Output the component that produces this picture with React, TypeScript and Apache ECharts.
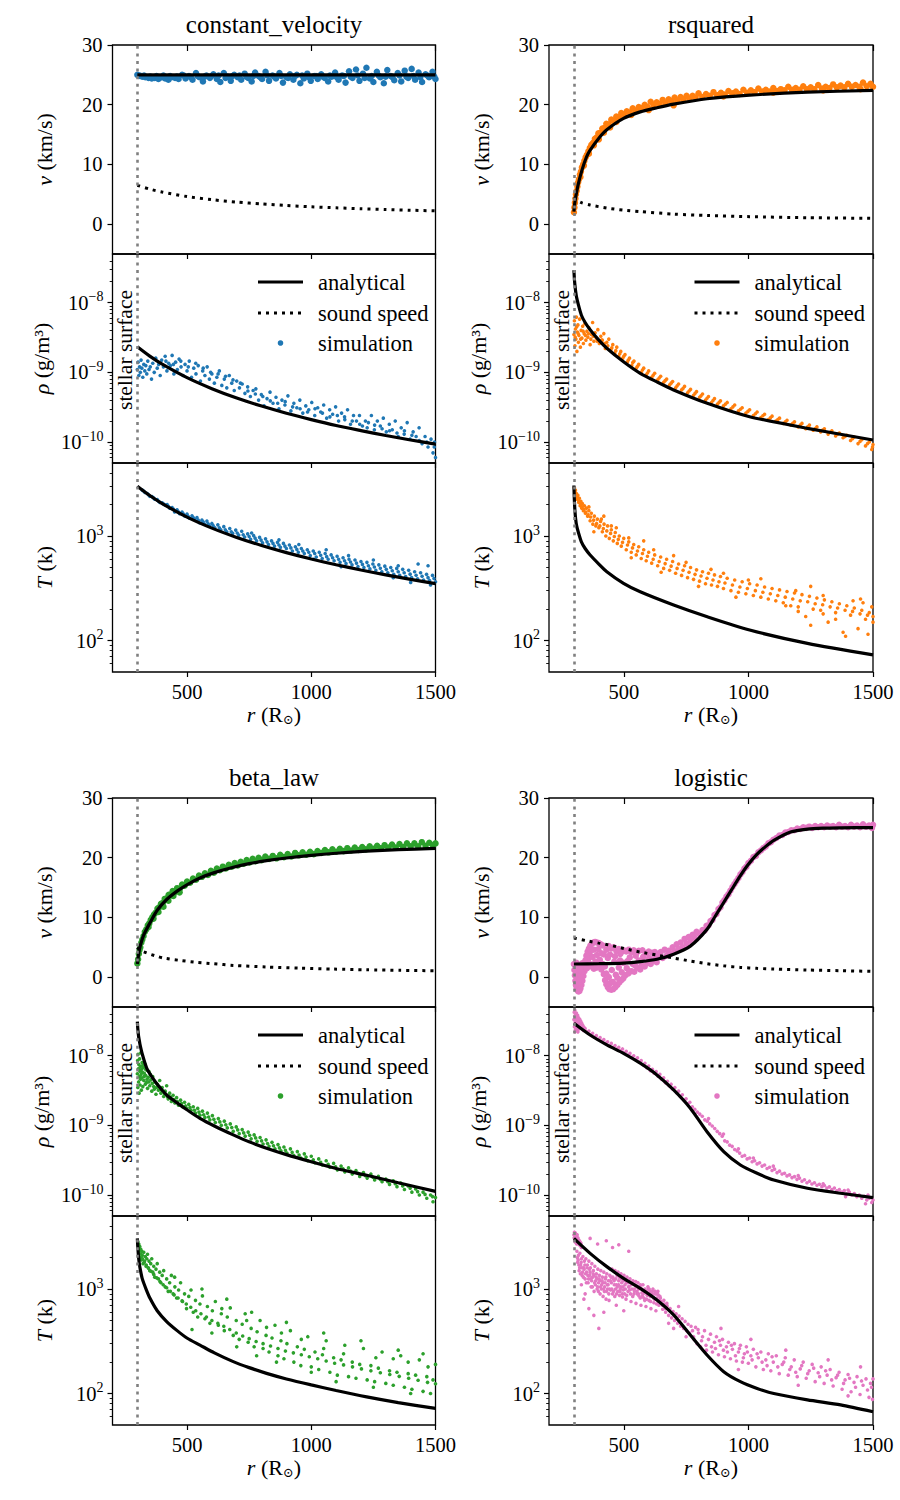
import { useEffect, useRef } from "react";
import * as echarts from "echarts";

// ---------- axes ----------
const R_MIN = 200;
const R_MAX = 1500;
const R_SURFACE = 300;
const R_TICKS = [500, 1000, 1500];
const V_MIN = -5;
const V_MAX = 30;
const V_TICKS = [0, 10, 20, 30];
const RHO_MIN = 5e-11;
const RHO_MAX = 5e-8;
const RHO_TICKS = [1e-10, 1e-9, 1e-8];
const RHO_MINOR = [6e-11, 7e-11, 8e-11, 9e-11, 2e-10, 3e-10, 4e-10, 5e-10, 6e-10, 7e-10, 8e-10, 9e-10, 2e-9, 3e-9, 4e-9, 5e-9, 6e-9, 7e-9, 8e-9, 9e-9, 2e-8, 3e-8, 4e-8];
const T_MIN = 50;
const T_MAX = 5000;
const T_TICKS = [100, 1000];
const T_MINOR = [60, 70, 80, 90, 200, 300, 400, 500, 600, 700, 800, 900, 2000, 3000, 4000];

const PANEL_TITLES = ["constant_velocity", "rsquared", "beta_law", "logistic"];
const PANEL_COLORS = ["#1f77b4", "#ff7f0e", "#2ca02c", "#e377c2"];
const LEGEND_LABELS = ["analytical", "sound speed", "simulation"];

// ---------- constant_velocity ----------
const cvVelocity = [[300, 25], [1500, 25]];
const cvSound = [[300, 6.5], [350, 5.86], [400, 5.37], [500, 4.62], [600, 4.1], [700, 3.69], [800, 3.38], [900, 3.12], [1000, 2.91], [1100, 2.73], [1200, 2.58], [1300, 2.45], [1400, 2.33], [1500, 2.22]];
const cvDensity = [[300, 2.33e-9], [350, 1.71e-9], [400, 1.31e-9], [500, 8.39e-10], [600, 5.83e-10], [700, 4.28e-10], [800, 3.28e-10], [900, 2.59e-10], [1000, 2.1e-10], [1100, 1.73e-10], [1200, 1.46e-10], [1300, 1.24e-10], [1400, 1.07e-10], [1500, 9.32e-11]];
const cvTemperature = [[300, 3000], [350, 2442], [400, 2044], [500, 1518], [600, 1191], [700, 970], [800, 812], [900, 694], [1000, 603], [1100, 531], [1200, 473], [1300, 425], [1400, 385], [1500, 351]];
const cvVelocitySim = [
  [300, 25.0], [307, 24.8], [310, 24.9], [320, 24.7], [327, 24.9], [332, 24.6], [345, 24.5], [352, 24.7], [358, 24.4], [370, 24.5], [377, 24.8], [385, 24.3], [398, 24.6], [405, 24.9], [412, 24.4], [425, 24.2], [432, 24.8], [438, 24.6], [452, 24.5], [459, 24.7], [466, 24.3], [480, 25.0], [487, 24.9], [494, 24.4], [508, 24.8], [515, 24.6], [522, 24.2], [536, 25.3], [543, 24.8], [550, 24.6], [564, 23.9], [571, 24.7], [578, 24.9], [592, 24.5], [599, 24.8], [606, 25.1], [620, 24.3], [627, 24.9], [634, 23.8], [648, 25.3], [655, 24.5], [662, 24.7], [676, 24.0], [683, 24.8], [690, 25.0], [704, 24.6], [711, 24.9], [718, 24.2], [732, 25.2], [739, 24.7], [746, 24.5], [760, 23.9], [767, 24.8], [774, 25.4], [788, 24.8], [795, 24.6], [802, 24.3], [816, 25.5], [823, 24.9], [830, 24.0], [844, 24.9], [851, 24.7], [858, 24.4], [872, 25.3], [879, 24.8], [886, 23.7], [900, 24.6], [907, 24.5], [914, 25.1], [928, 24.2], [935, 24.8], [942, 25.0], [956, 23.6], [963, 24.9], [970, 24.4], [984, 25.2], [991, 24.6], [998, 24.0],
  [1012, 24.8], [1019, 24.8], [1026, 24.3], [1040, 25.1], [1047, 24.7], [1054, 24.5], [1068, 23.9], [1075, 24.9], [1082, 24.7], [1096, 25.4], [1103, 24.6], [1110, 24.2], [1124, 24.9], [1131, 24.8], [1138, 23.7], [1152, 25.6], [1159, 24.7], [1166, 24.5], [1180, 25.9], [1187, 24.9], [1194, 24.0], [1208, 25.2], [1215, 24.5], [1222, 26.2], [1236, 24.4], [1243, 24.8], [1250, 23.8], [1264, 25.5], [1271, 24.9], [1278, 24.6], [1292, 23.6], [1299, 24.7], [1306, 25.8], [1320, 24.8], [1327, 24.6], [1334, 24.1], [1348, 25.3], [1355, 24.9], [1362, 23.9], [1376, 25.7], [1383, 24.7], [1390, 24.5], [1404, 26.0], [1411, 24.8], [1418, 24.2], [1432, 25.4], [1439, 24.6], [1446, 23.8], [1460, 25.1], [1467, 24.9], [1474, 24.6], [1488, 25.5], [1495, 24.7], [1500, 24.3]
];
const cvDensitySim = [
  [300, 1.1e-9], [303, 1.4e-9], [306, 9e-10], [309, 1.2e-9], [312, 1.0e-9], [315, 1.5e-9], [318, 1.15e-9], [322, 8.5e-10], [326, 1.3e-9], [330, 1.05e-9], [334, 1.25e-9], [338, 9.5e-10], [342, 1.45e-9], [347, 1.1e-9], [352, 1.2e-9], [357, 8e-10], [362, 1.35e-9], [368, 1.0e-9], [374, 1.6e-9], [380, 1.15e-9], [386, 1.3e-9], [392, 9e-10], [398, 1.5e-9], [405, 1.2e-9], [412, 1.7e-9], [419, 1.05e-9], [426, 1.35e-9], [433, 1.25e-9], [440, 1.75e-9], [447, 9.5e-10], [454, 1.4e-9], [461, 1.1e-9], [468, 1.55e-9], [476, 1.2e-9], [484, 9e-10], [492, 1.3e-9], [500, 1.05e-9], [509, 1.45e-9], [518, 8.5e-10], [527, 1.15e-9], [536, 9.5e-10], [545, 1.25e-9], [554, 7.5e-10], [563, 1.05e-9], [572, 9e-10], [581, 1.2e-9], [590, 8e-10], [600, 9.5e-10], [610, 7e-10], [620, 8.5e-10], [630, 1.05e-9], [640, 6.5e-10], [650, 8e-10], [660, 6e-10], [670, 9e-10], [680, 7e-10], [690, 5.5e-10], [700, 7.5e-10], [711, 6e-10], [722, 6.8e-10], [733, 5e-10], [744, 6.2e-10], [755, 4.5e-10], [766, 5.5e-10], [777, 5.8e-10], [788, 4e-10], [799, 4.8e-10], [810, 3.3e-10], [822, 4.2e-10], [834, 5.2e-10], [846, 3.6e-10], [858, 4.4e-10], [870, 3e-10], [882, 4e-10], [894, 3.4e-10], [906, 4.6e-10], [918, 2.8e-10], [930, 3.6e-10], [942, 3.1e-10], [954, 4e-10], [966, 2.6e-10], [978, 3.3e-10], [990, 2.9e-10],
  [1002, 3.7e-10], [1014, 2.4e-10], [1026, 3.1e-10], [1038, 2.7e-10], [1050, 3.4e-10], [1062, 2.2e-10], [1074, 2.9e-10], [1086, 2.5e-10], [1098, 3.2e-10], [1110, 2e-10], [1122, 2.6e-10], [1134, 2.3e-10], [1146, 2.9e-10], [1158, 1.8e-10], [1170, 2.4e-10], [1182, 2e-10], [1194, 2.4e-10], [1206, 1.7e-10], [1218, 2e-10], [1230, 1.9e-10], [1242, 2.4e-10], [1254, 1.5e-10], [1266, 2e-10], [1278, 1.7e-10], [1290, 2.2e-10], [1302, 1.4e-10], [1314, 1.8e-10], [1326, 1.5e-10], [1338, 2e-10], [1350, 1.2e-10], [1362, 1.6e-10], [1374, 1.3e-10], [1386, 1.9e-10], [1398, 1.1e-10], [1410, 1.4e-10], [1422, 1.2e-10], [1434, 1.6e-10], [1446, 9.5e-11], [1458, 1.2e-10], [1470, 8.5e-11], [1482, 1.1e-10], [1490, 7e-11], [1496, 1e-10], [1500, 6e-11],
  [415, 1.45e-9], [445, 1.3e-9], [475, 1.45e-9], [505, 1.2e-9], [535, 1.35e-9], [565, 1.15e-9], [595, 1.0e-9], [625, 9.5e-10], [655, 8.8e-10], [685, 7.8e-10], [715, 7e-10], [745, 5.4e-10], [775, 4.9e-10], [805, 4.5e-10], [835, 3.9e-10], [865, 3.6e-10], [895, 3.8e-10], [925, 3.2e-10], [955, 3.0e-10], [985, 2.7e-10], [1015, 3.0e-10], [1045, 2.6e-10], [1075, 2.3e-10], [1105, 2.4e-10], [1135, 2.1e-10], [1165, 2.0e-10], [1195, 1.8e-10], [1225, 1.6e-10], [1255, 1.75e-10], [1285, 1.55e-10], [1315, 1.45e-10], [1345, 1.35e-10], [1375, 1.45e-10], [1405, 1.25e-10], [1435, 1.05e-10], [1465, 1.0e-10], [1495, 8.5e-11]
];
const cvTemperatureSim = [
  [320, 2750], [330, 2620], [340, 2550], [350, 2400], [360, 2380], [370, 2250], [380, 2230], [390, 2100], [400, 2080], [410, 1990], [420, 2000], [430, 1850], [440, 1870], [450, 1700], [460, 1780], [470, 1640], [480, 1700], [490, 1560], [500, 1620], [510, 1480], [520, 1560], [530, 1450], [540, 1500], [550, 1340], [560, 1420], [570, 1300], [580, 1390], [590, 1250], [600, 1320], [612, 1200], [624, 1280], [636, 1150], [648, 1230], [660, 1100], [672, 1180], [684, 1060], [696, 1140], [708, 1020], [720, 1110], [732, 980], [744, 1050], [756, 930], [768, 1010], [780, 900], [792, 970], [804, 860], [816, 940], [828, 830], [840, 900], [852, 800], [864, 870], [876, 780], [888, 850], [900, 760], [912, 820], [924, 720], [936, 790], [948, 700], [960, 760], [972, 680], [984, 740], [996, 650],
  [1008, 720], [1020, 630], [1032, 700], [1044, 610], [1056, 680], [1068, 600], [1080, 660], [1092, 580], [1104, 640], [1116, 560], [1128, 620], [1140, 545], [1152, 600], [1164, 530], [1176, 590], [1188, 510], [1200, 570], [1212, 500], [1224, 560], [1236, 485], [1248, 540], [1260, 470], [1272, 530], [1284, 455], [1296, 515], [1308, 445], [1320, 500], [1332, 430], [1344, 490], [1356, 420], [1368, 480], [1380, 410], [1392, 470], [1404, 400], [1416, 455], [1428, 390], [1440, 445], [1452, 380], [1464, 430], [1476, 375], [1488, 420], [1500, 365],
  [1350, 520], [1430, 540], [1470, 520], [1250, 590], [1150, 650], [1060, 740], [950, 830], [870, 920], [760, 1070], [1120, 510], [1330, 400], [1480, 340], [1010, 600], [1400, 360],
  [325, 2700], [345, 2480], [365, 2320], [385, 2160], [405, 2030], [425, 1930], [445, 1810], [465, 1710], [485, 1630], [505, 1540], [525, 1500], [545, 1420], [565, 1370], [585, 1310], [605, 1260], [630, 1200], [654, 1150], [678, 1100], [702, 1070], [726, 1030], [750, 990], [774, 955], [798, 915], [822, 880], [846, 850], [870, 820], [894, 800], [918, 770], [942, 745], [966, 720], [990, 700], [1014, 680], [1038, 655], [1062, 635], [1086, 620], [1110, 600], [1134, 580], [1158, 565], [1182, 550], [1206, 535], [1230, 520], [1254, 505], [1278, 492], [1302, 480], [1326, 465], [1350, 455], [1374, 445], [1398, 432], [1422, 422], [1446, 412], [1470, 400], [1494, 392]
];

// ---------- rsquared ----------
const rsVelocity = [[300, 2.1], [302, 3.0], [305, 4.0], [310, 5.2], [318, 6.8], [332, 9.0], [350, 11.2], [365, 12.4], [400, 14.4], [432, 15.8], [499, 17.7], [566, 18.8], [633, 19.5], [700, 20.1], [834, 21.0], [1005, 21.6], [1237, 22.1], [1500, 22.4]];
const rsSound = [[300, 4.5], [305, 4.2], [311, 4.0], [330, 3.6], [365, 3.2], [432, 2.7], [499, 2.35], [566, 2.1], [700, 1.68], [835, 1.45], [1005, 1.25], [1237, 1.08], [1500, 0.97]];
const rsDensity = [[300, 2.94e-8], [301, 2.5e-8], [302, 2.15e-8], [304, 1.8e-8], [307, 1.45e-8], [311, 1.18e-8], [318, 9.3e-9], [330, 6.6e-9], [345, 5.2e-9], [365, 4.1e-9], [400, 2.9e-9], [432, 2.22e-9], [499, 1.42e-9], [566, 9.7e-10], [633, 7.3e-10], [700, 5.6e-10], [835, 3.6e-10], [1005, 2.31e-10], [1237, 1.57e-10], [1500, 1.07e-10]];
const rsTemperature = [[300, 3050], [301, 2500], [302, 2150], [304, 1750], [307, 1450], [311, 1250], [318, 1080], [330, 880], [345, 760], [365, 659], [400, 540], [432, 456], [499, 353], [566, 293], [700, 219], [835, 169], [1005, 126], [1237, 94], [1500, 73]];
const rsVelocitySim = [
  [300, 2.0], [302, 2.8], [304, 3.6], [306, 4.3], [308, 5.0], [311, 5.6], [314, 6.3], [317, 7.0], [320, 7.5], [324, 8.3], [328, 8.8], [332, 9.5], [337, 10.0], [342, 10.6], [347, 11.2], [352, 11.6], [358, 12.2], [364, 12.8], [370, 13.3], [377, 13.6], [384, 14.3], [391, 14.5], [398, 15.2], [406, 15.3], [414, 16.0], [422, 16.1], [430, 16.8], [440, 16.7], [450, 17.5], [460, 17.3], [470, 18.0], [480, 17.9], [490, 18.6], [500, 18.3], [512, 18.9], [524, 18.7], [536, 19.4], [548, 19.0], [560, 19.6], [572, 19.4], [584, 20.0], [596, 19.6], [608, 20.5], [620, 19.9], [632, 20.4], [644, 20.1], [656, 20.8], [668, 20.3], [680, 20.9], [692, 20.6], [704, 21.2], [716, 20.7], [728, 21.3], [740, 20.9], [752, 21.5], [764, 21.0], [776, 21.5], [788, 21.2], [800, 21.9], [815, 21.3], [830, 21.8], [845, 21.5], [860, 22.1], [875, 21.6], [890, 22.0], [905, 21.7], [920, 22.3], [935, 21.9], [950, 22.2], [965, 21.8], [980, 22.5], [995, 22.0],
  [1010, 22.4], [1025, 22.1], [1040, 22.7], [1055, 22.2], [1070, 22.5], [1085, 22.2], [1100, 22.8], [1115, 22.3], [1130, 22.6], [1145, 22.4], [1160, 23.0], [1175, 22.5], [1190, 22.8], [1205, 22.5], [1220, 23.1], [1235, 22.6], [1250, 22.9], [1265, 22.6], [1280, 23.3], [1295, 22.7], [1310, 23.0], [1325, 22.8], [1340, 23.4], [1355, 22.9], [1370, 23.2], [1385, 22.9], [1400, 23.5], [1415, 23.0], [1430, 23.3], [1445, 23.0], [1460, 23.7], [1475, 23.1], [1490, 23.5], [1500, 23.0],
  [326, 7.9], [340, 9.8], [360, 11.8], [380, 13.2], [400, 14.2], [420, 15.3], [445, 16.2], [470, 17.1], [530, 18.3], [600, 19.1], [700, 19.9], [900, 21.4], [1100, 22.0], [1300, 22.4], [1450, 22.6]
];
const rsDensitySim = [
  [300, 3.5e-9], [302, 5.5e-9], [304, 2.4e-9], [306, 4.2e-9], [308, 3.0e-9], [310, 6.2e-9], [312, 2.0e-9], [314, 3.8e-9], [316, 4.8e-9], [318, 2.7e-9], [320, 3.4e-9], [323, 5.8e-9], [326, 2.3e-9], [329, 4.0e-9], [332, 3.1e-9], [335, 4.6e-9], [338, 2.6e-9], [341, 3.6e-9], [344, 5.0e-9], [348, 2.9e-9], [352, 3.9e-9], [356, 3.2e-9], [360, 4.4e-9], [365, 2.5e-9], [370, 3.5e-9], [375, 5.2e-9], [380, 2.8e-9], [385, 3.7e-9], [390, 3.1e-9], [396, 4.1e-9], [402, 2.6e-9], [408, 3.3e-9], [414, 2.9e-9], [420, 3.6e-9], [426, 2.2e-9], [432, 2.7e-9], [440, 3.0e-9], [448, 2.1e-9], [456, 2.5e-9], [464, 1.9e-9], [472, 2.3e-9], [480, 1.7e-9], [488, 2.0e-9], [496, 1.6e-9], [505, 1.8e-9], [514, 1.4e-9], [523, 1.6e-9], [532, 1.25e-9], [541, 1.45e-9], [550, 1.15e-9], [560, 1.3e-9], [570, 1.0e-9], [580, 1.15e-9], [590, 9.2e-10], [600, 1.05e-9], [612, 8.5e-10], [624, 9.7e-10], [636, 7.8e-10], [648, 8.8e-10], [660, 7.2e-10], [672, 8e-10], [684, 6.6e-10], [696, 7.4e-10], [708, 6e-10], [720, 6.8e-10], [732, 5.6e-10], [744, 6.3e-10], [756, 5.1e-10], [768, 5.7e-10], [780, 4.7e-10], [792, 5.3e-10], [804, 4.4e-10], [816, 4.9e-10], [828, 4e-10], [840, 4.5e-10], [852, 3.7e-10], [864, 4.2e-10], [876, 3.5e-10], [888, 3.9e-10], [900, 3.3e-10], [915, 3.7e-10], [930, 3e-10], [945, 3.4e-10], [960, 2.8e-10], [975, 3.1e-10], [990, 2.6e-10],
  [1005, 2.9e-10], [1020, 2.4e-10], [1035, 2.7e-10], [1050, 2.25e-10], [1065, 2.5e-10], [1080, 2.1e-10], [1095, 2.35e-10], [1110, 2e-10], [1125, 2.2e-10], [1140, 1.85e-10], [1155, 2.05e-10], [1170, 1.75e-10], [1185, 1.95e-10], [1200, 1.65e-10], [1215, 1.85e-10], [1230, 1.55e-10], [1245, 1.75e-10], [1260, 1.48e-10], [1275, 1.65e-10], [1290, 1.4e-10], [1305, 1.55e-10], [1320, 1.3e-10], [1335, 1.45e-10], [1350, 1.22e-10], [1365, 1.35e-10], [1380, 1.15e-10], [1395, 1.25e-10], [1410, 1.05e-10], [1425, 1.18e-10], [1440, 9.5e-11], [1455, 1.08e-10], [1470, 8.8e-11], [1485, 1e-10], [1495, 7.8e-11], [1500, 9.2e-11],
  [305, 3.2e-9], [311, 4.5e-9], [317, 3.6e-9], [327, 3.0e-9], [337, 3.9e-9], [346, 3.4e-9], [358, 3.6e-9], [368, 3.0e-9], [378, 3.3e-9], [393, 2.8e-9], [411, 2.9e-9], [423, 2.6e-9], [436, 2.4e-9], [452, 2.25e-9], [468, 2.05e-9], [484, 1.85e-9], [500, 1.7e-9], [518, 1.5e-9], [536, 1.38e-9], [555, 1.22e-9], [575, 1.08e-9], [595, 9.8e-10], [618, 9.1e-10], [642, 8.3e-10], [666, 7.6e-10], [690, 7e-10], [714, 6.4e-10], [738, 5.9e-10], [762, 5.4e-10], [786, 5e-10], [810, 4.6e-10], [834, 4.25e-10], [858, 3.95e-10], [882, 3.7e-10], [908, 3.5e-10], [938, 3.2e-10], [968, 2.95e-10], [998, 2.75e-10], [1028, 2.55e-10], [1058, 2.38e-10], [1088, 2.22e-10], [1118, 2.1e-10], [1148, 1.95e-10], [1178, 1.85e-10], [1208, 1.75e-10], [1238, 1.65e-10], [1268, 1.56e-10], [1298, 1.48e-10], [1328, 1.38e-10], [1358, 1.3e-10], [1388, 1.2e-10], [1418, 1.12e-10], [1448, 1.02e-10], [1478, 9.5e-11], [1498, 8.5e-11]
];
const rsTemperatureSim = [
  [302, 2900], [304, 2600], [306, 2750], [308, 2400], [310, 2550], [313, 2250], [316, 2450], [319, 2100], [322, 2300], [325, 1950], [328, 2150], [331, 1850], [334, 2050], [338, 1750], [342, 1950], [346, 1650], [350, 1850], [355, 1550], [360, 1750], [365, 1400], [370, 1650], [376, 1300], [382, 1550], [388, 1250], [394, 1450], [400, 1200], [407, 1380], [414, 1100], [421, 1300], [428, 1000], [435, 1250], [442, 950], [450, 1150], [458, 900], [466, 1080], [474, 850], [482, 1000], [490, 800], [500, 950], [510, 740], [520, 880], [530, 700], [540, 830], [550, 660], [560, 790], [570, 610], [580, 740], [590, 580], [600, 700], [612, 550], [624, 660], [636, 520], [648, 630], [660, 490], [672, 600], [684, 470], [696, 570], [708, 440], [720, 540], [732, 420], [744, 520], [756, 400], [768, 500], [780, 385], [792, 475], [804, 370], [816, 455], [828, 350], [840, 440], [852, 340], [864, 425], [876, 330], [888, 410], [900, 315], [915, 395], [930, 300], [945, 380], [960, 290], [975, 365], [990, 280],
  [1005, 350], [1020, 270], [1035, 340], [1050, 260], [1065, 325], [1080, 250], [1095, 315], [1110, 240], [1125, 305], [1140, 230], [1155, 295], [1170, 215], [1185, 285], [1200, 210], [1215, 275], [1230, 170], [1245, 265], [1260, 200], [1275, 255], [1290, 195], [1305, 245], [1320, 150], [1335, 235], [1350, 185], [1365, 225], [1380, 120], [1395, 215], [1410, 175], [1425, 205], [1440, 130], [1455, 195], [1470, 160], [1485, 185], [1500, 150],
  [1495, 210], [1460, 230], [1420, 240], [1300, 270], [1190, 300], [1000, 380], [900, 440], [750, 560], [620, 740], [520, 960], [450, 1250], [410, 1450], [360, 1900], [1250, 140], [1390, 110], [1480, 115],
  [303, 2700], [309, 2450], [315, 2300], [321, 2150], [327, 2000], [333, 1900], [340, 1800], [348, 1700], [357, 1600], [367, 1520], [379, 1420], [391, 1320], [404, 1250], [418, 1180], [432, 1120], [447, 1060], [462, 990], [478, 930], [495, 870], [515, 820], [535, 770], [555, 720], [575, 680], [595, 640], [618, 600], [642, 570], [666, 545], [690, 515], [714, 490], [738, 470], [762, 450], [786, 430], [810, 415], [834, 395], [858, 380], [882, 365], [906, 355], [936, 340], [966, 325], [996, 315], [1028, 300], [1058, 290], [1088, 280], [1118, 270], [1148, 260], [1178, 250], [1208, 240], [1238, 235], [1268, 225], [1298, 220], [1328, 210], [1358, 205], [1388, 195], [1418, 190], [1448, 180], [1478, 175], [1500, 170],
  [380, 1100], [420, 1550], [470, 1200], [530, 620], [580, 900], [650, 450], [700, 650], [800, 330], [850, 480], [950, 260], [1050, 390], [1150, 215], [1250, 330], [1350, 160], [1450, 250], [1300, 180], [1200, 190]
];

// ---------- beta_law ----------
const blVelocity = [[300, 2.2], [305, 3.8], [311, 5.1], [325, 7.0], [351, 9.1], [380, 11.2], [418, 13.0], [460, 14.4], [501, 15.5], [552, 16.6], [610, 17.5], [686, 18.4], [750, 19.0], [820, 19.5], [900, 19.95], [1000, 20.4], [1100, 20.75], [1223, 21.1], [1350, 21.35], [1500, 21.55]];
const blSound = [[300, 5.0], [305, 4.75], [312, 4.5], [338, 4.04], [370, 3.6], [405, 3.2], [472, 2.8], [539, 2.47], [606, 2.25], [686, 1.97], [820, 1.7], [954, 1.5], [1088, 1.35], [1223, 1.23], [1357, 1.14], [1500, 1.07]];
const blDensity = [[300, 3.08e-8], [302, 2.4e-8], [305, 1.9e-8], [308, 1.65e-8], [311, 1.43e-8], [320, 1.05e-8], [338, 6.6e-9], [360, 4.9e-9], [385, 3.7e-9], [418, 2.73e-9], [460, 2.1e-9], [501, 1.66e-9], [552, 1.26e-9], [610, 9.8e-10], [686, 7.3e-10], [750, 5.8e-10], [820, 4.7e-10], [900, 3.8e-10], [1000, 3.0e-10], [1100, 2.4e-10], [1223, 1.92e-10], [1350, 1.5e-10], [1500, 1.13e-10]];
const blTemperature = [[300, 3055], [302, 2500], [305, 2000], [308, 1750], [311, 1578], [320, 1250], [335, 1000], [351, 815], [380, 620], [418, 488], [460, 400], [501, 338], [552, 291], [610, 245], [686, 202], [750, 177], [820, 156], [900, 138], [1000, 121], [1100, 107], [1223, 93], [1350, 82], [1500, 72]];
const blVelocitySim = [
  [300, 2.3], [303, 3.0], [306, 3.9], [309, 4.6], [312, 5.0], [316, 5.8], [320, 6.3], [325, 6.9], [330, 7.6], [336, 8.0], [342, 8.7], [348, 9.0], [354, 9.6], [360, 10.0], [367, 10.5], [374, 10.8], [381, 11.5], [388, 11.7], [395, 12.3], [402, 12.4], [410, 13.1], [418, 13.2], [426, 13.8], [434, 13.7], [442, 14.4], [450, 14.2], [460, 14.9], [470, 14.7], [480, 15.5], [490, 15.3], [500, 16.0], [512, 15.8], [524, 16.5], [536, 16.3], [548, 17.0], [560, 16.8], [572, 17.4], [584, 17.1], [596, 17.8], [608, 17.5], [620, 18.2], [632, 17.9], [644, 18.5], [656, 18.2], [668, 18.8], [680, 18.5], [692, 19.1], [704, 18.7], [716, 19.3], [728, 19.0], [740, 19.6], [752, 19.2], [764, 19.8], [776, 19.4], [788, 20.0], [800, 19.6], [815, 20.2], [830, 19.8], [845, 20.3], [860, 19.9], [875, 20.5], [890, 20.1], [905, 20.6], [920, 20.2], [935, 20.8], [950, 20.4], [965, 20.9], [980, 20.5], [995, 21.0],
  [1010, 20.6], [1025, 21.1], [1040, 20.8], [1055, 21.3], [1070, 20.9], [1085, 21.4], [1100, 21.0], [1115, 21.5], [1130, 21.1], [1145, 21.6], [1160, 21.2], [1175, 21.7], [1190, 21.3], [1205, 21.8], [1220, 21.4], [1235, 21.9], [1250, 21.5], [1265, 22.0], [1280, 21.6], [1295, 22.1], [1310, 21.7], [1325, 22.2], [1340, 21.7], [1355, 22.3], [1370, 21.8], [1385, 22.4], [1400, 21.9], [1415, 22.4], [1430, 21.9], [1445, 22.6], [1460, 22.0], [1475, 22.5], [1490, 22.1], [1500, 22.4],
  [345, 8.4], [365, 9.8], [385, 10.9], [405, 11.8], [425, 12.8], [445, 13.6], [470, 14.2]
];
const blDensitySim = [
  [300, 5.5e-9], [301, 8.5e-9], [302, 3.5e-9], [303, 1.05e-8], [304, 6.5e-9], [305, 4.2e-9], [306, 7.5e-9], [307, 2.9e-9], [308, 5.0e-9], [309, 9.0e-9], [310, 6.0e-9], [311, 3.8e-9], [312, 7.0e-9], [313, 4.6e-9], [314, 1.1e-8], [315, 5.4e-9], [316, 3.2e-9], [317, 6.4e-9], [318, 4.8e-9], [319, 8.0e-9], [320, 5.8e-9], [322, 3.6e-9], [324, 6.8e-9], [326, 4.4e-9], [328, 5.6e-9], [330, 7.6e-9], [332, 3.9e-9], [334, 5.2e-9], [336, 4.1e-9], [338, 6.2e-9], [341, 3.4e-9], [344, 4.9e-9], [347, 5.9e-9], [350, 3.7e-9], [354, 4.5e-9], [358, 3.1e-9], [362, 5.0e-9], [366, 3.6e-9], [370, 4.2e-9], [375, 2.8e-9], [380, 3.9e-9], [385, 3.2e-9], [390, 4.4e-9], [395, 2.9e-9], [400, 3.5e-9], [406, 2.6e-9], [412, 3.1e-9], [418, 3.7e-9], [424, 2.4e-9], [430, 2.9e-9], [437, 2.2e-9], [444, 2.7e-9], [451, 2.1e-9], [458, 2.5e-9], [466, 1.95e-9], [474, 2.3e-9], [482, 1.85e-9], [490, 2.15e-9], [498, 1.75e-9], [507, 2.0e-9], [516, 1.65e-9], [525, 1.85e-9], [534, 1.5e-9], [543, 1.75e-9], [552, 1.4e-9], [562, 1.6e-9], [572, 1.3e-9], [582, 1.5e-9], [592, 1.2e-9], [602, 1.38e-9], [614, 1.1e-9], [626, 1.25e-9], [638, 1.0e-9], [650, 1.15e-9], [662, 9.2e-10], [674, 1.05e-9], [686, 8.2e-10], [698, 9.5e-10], [710, 7.6e-10], [722, 8.7e-10], [734, 7e-10], [746, 8e-10], [758, 6.4e-10], [770, 7.3e-10], [782, 5.9e-10], [794, 6.7e-10], [806, 5.4e-10], [818, 6.2e-10], [830, 5e-10], [842, 5.7e-10], [854, 4.6e-10], [866, 5.3e-10], [878, 4.3e-10], [890, 4.9e-10], [902, 4e-10], [916, 4.6e-10], [930, 3.7e-10], [944, 4.2e-10], [958, 3.4e-10], [972, 3.9e-10], [986, 3.1e-10],
  [1000, 3.6e-10], [1015, 2.9e-10], [1030, 3.3e-10], [1045, 2.7e-10], [1060, 3.1e-10], [1075, 2.5e-10], [1090, 2.85e-10], [1105, 2.3e-10], [1120, 2.6e-10], [1135, 2.15e-10], [1150, 2.45e-10], [1165, 2e-10], [1180, 2.25e-10], [1195, 1.85e-10], [1210, 2.1e-10], [1225, 1.75e-10], [1240, 2e-10], [1255, 1.65e-10], [1270, 1.85e-10], [1285, 1.55e-10], [1300, 1.7e-10], [1315, 1.42e-10], [1330, 1.6e-10], [1345, 1.32e-10], [1360, 1.48e-10], [1375, 1.2e-10], [1390, 1.35e-10], [1405, 1.1e-10], [1420, 1.22e-10], [1435, 1e-10], [1450, 1.1e-10], [1465, 9e-11], [1480, 1e-10], [1490, 8e-11], [1500, 9.2e-11],
  [321, 7.2e-9], [327, 5.0e-9], [333, 6.4e-9], [339, 4.6e-9], [346, 4.2e-9], [352, 5.4e-9], [360, 4.0e-9], [368, 3.3e-9], [377, 3.5e-9], [387, 3.6e-9], [398, 3.2e-9], [409, 2.85e-9], [421, 2.6e-9], [434, 2.55e-9], [447, 2.35e-9], [461, 2.2e-9], [478, 2.05e-9], [494, 1.9e-9], [512, 1.8e-9], [530, 1.65e-9], [548, 1.55e-9], [567, 1.42e-9], [587, 1.32e-9], [608, 1.22e-9], [632, 1.12e-9], [656, 1.02e-9], [680, 9.3e-10], [704, 8.6e-10], [728, 7.8e-10], [752, 7.2e-10], [776, 6.6e-10], [800, 6e-10], [824, 5.5e-10], [848, 5.1e-10], [872, 4.75e-10], [896, 4.4e-10], [923, 4.1e-10], [951, 3.75e-10], [979, 3.5e-10], [1008, 3.2e-10], [1038, 2.95e-10], [1068, 2.75e-10], [1098, 2.55e-10], [1128, 2.38e-10], [1158, 2.2e-10], [1188, 2.05e-10], [1218, 1.9e-10], [1248, 1.8e-10], [1278, 1.68e-10], [1308, 1.55e-10], [1338, 1.45e-10], [1368, 1.35e-10], [1398, 1.25e-10], [1428, 1.12e-10], [1458, 1.02e-10], [1488, 9.5e-11]
];
const blTemperatureSim = [
  [302, 2850], [304, 2500], [306, 2700], [308, 2200], [310, 2550], [312, 2000], [314, 2400], [316, 1900], [318, 2300], [320, 2100], [323, 1750], [326, 2250], [329, 1850], [332, 2050], [335, 1650], [338, 1950], [341, 2150], [344, 1600], [347, 1850], [350, 1500], [354, 1750], [358, 1950], [362, 1450], [366, 1650], [370, 1300], [375, 1550], [380, 1750], [385, 1250], [390, 1450], [395, 1150], [400, 1350], [406, 1500], [412, 1050], [418, 1250], [424, 950], [430, 1150], [437, 1350], [444, 900], [451, 1050], [458, 820], [466, 980], [474, 1150], [482, 760], [490, 900], [498, 650], [507, 850], [516, 980], [525, 600], [534, 780], [543, 540], [552, 720], [562, 860], [572, 520], [582, 680], [592, 470], [602, 620], [614, 760], [626, 450], [638, 580], [650, 400], [662, 540], [674, 660], [686, 360], [698, 500], [710, 330], [722, 460], [734, 580], [746, 310], [758, 420], [770, 280], [782, 390], [794, 500], [806, 270], [818, 360], [830, 250], [842, 340], [854, 450], [866, 230], [878, 320], [890, 215], [902, 300], [916, 400], [930, 200], [944, 280], [958, 185], [972, 265], [986, 350],
  [1000, 180], [1015, 250], [1030, 170], [1045, 235], [1060, 320], [1075, 160], [1090, 220], [1105, 150], [1120, 210], [1135, 290], [1150, 145], [1165, 200], [1180, 140], [1195, 190], [1210, 270], [1225, 135], [1240, 185], [1255, 130], [1270, 175], [1285, 250], [1300, 125], [1315, 165], [1330, 120], [1345, 160], [1360, 230], [1375, 115], [1390, 155], [1405, 110], [1420, 150], [1435, 210], [1450, 105], [1465, 145], [1480, 100], [1490, 135], [1500, 190],
  [1470, 180], [1390, 200], [1330, 215], [1260, 220], [1130, 240], [1050, 270], [960, 330], [880, 380], [820, 430], [740, 500], [640, 650],
  [303, 2650], [309, 2350], [315, 2150], [321, 1950], [328, 1800], [336, 1700], [345, 1580], [355, 1480], [366, 1380], [378, 1280], [391, 1180], [404, 1100], [418, 1030], [433, 950], [448, 880], [464, 820], [480, 770], [497, 720], [515, 670], [535, 620], [556, 580], [578, 540], [600, 500], [624, 470], [648, 440], [672, 410], [698, 380], [724, 355], [750, 335], [778, 315], [806, 300], [836, 285], [866, 270], [896, 255], [928, 245], [960, 235], [992, 225], [1026, 215], [1060, 205], [1094, 195], [1130, 188], [1166, 180], [1202, 172], [1240, 165], [1278, 158], [1316, 152], [1354, 146], [1392, 140], [1430, 134], [1468, 128], [1500, 124],
  [520, 410], [600, 380], [700, 280], [780, 230], [860, 200], [1000, 160], [1100, 130], [1250, 115], [1400, 100], [450, 1300], [560, 1000], [660, 800], [760, 600], [900, 480], [1050, 380], [1200, 320], [1350, 260], [1450, 240]
];

// ---------- logistic ----------
const lgVelocity = [[300, 2.2], [400, 2.25], [499, 2.36], [566, 2.6], [633, 3.0], [700, 3.85], [767, 5.2], [834, 8.0], [867, 10.2], [901, 12.5], [935, 14.8], [968, 17.0], [1000, 18.9], [1035, 20.6], [1070, 21.9], [1102, 22.9], [1169, 24.3], [1237, 24.8], [1300, 24.95], [1370, 25.0], [1500, 25.05]];
const lgSound = [[300, 6.55], [350, 6.1], [400, 5.7], [450, 5.3], [500, 4.8], [566, 4.2], [633, 3.7], [700, 3.2], [767, 2.7], [834, 2.25], [900, 1.9], [968, 1.63], [1035, 1.47], [1102, 1.36], [1237, 1.19], [1370, 1.08], [1500, 0.96]];
const lgDensity = [[300, 2.92e-8], [365, 1.98e-8], [432, 1.43e-8], [499, 1.08e-8], [566, 7.8e-9], [633, 5.3e-9], [700, 3.22e-9], [767, 1.76e-9], [834, 8.1e-10], [901, 4.2e-10], [968, 2.7e-10], [1035, 2.05e-10], [1102, 1.64e-10], [1237, 1.25e-10], [1370, 1.06e-10], [1500, 9.2e-11]];
const lgTemperature = [[300, 3055], [365, 2196], [432, 1638], [499, 1266], [566, 1015], [633, 785], [700, 565], [767, 363], [834, 234], [901, 162], [968, 130], [1035, 112], [1102, 100], [1237, 87], [1370, 78], [1500, 67]];
const lgVelocitySim = [
  [300, 2.2], [302, 1.2], [304, 0.3], [306, -0.6], [308, -1.3], [311, -1.8], [314, -2.2], [318, -2.4], [322, -2.3], [326, -1.9], [330, -1.3], [334, -0.6], [338, 0.2], [342, 1.0], [304, 2.0], [308, 1.5], [312, 0.8], [316, 0.0], [320, -0.9], [324, -0.4], [328, 0.3], [332, 0.9], [336, 1.5], [340, 2.2], [310, 2.4], [318, 1.6], [326, 1.2], [333, 2.3],
  [346, 2.8], [350, 3.6], [355, 4.3], [360, 4.8], [366, 5.3], [372, 5.6], [378, 5.8], [385, 5.9], [392, 5.8], [400, 5.7], [408, 5.5], [416, 5.3], [350, 2.0], [356, 3.0], [362, 3.9], [368, 4.5], [374, 3.4], [380, 4.6], [386, 2.6], [392, 3.7], [398, 4.7], [404, 2.9], [410, 4.0], [416, 2.2], [352, 1.5], [360, 2.4], [370, 1.8], [380, 1.4], [390, 1.6], [400, 1.9], [410, 1.3],
  [420, 0.5], [425, -0.5], [430, -1.2], [436, -1.7], [442, -2.0], [450, -2.1], [458, -2.0], [466, -1.7], [474, -1.3], [482, -0.9], [490, -0.5], [498, -0.2], [424, 1.8], [430, 0.6], [436, 3.2], [440, 0.0], [446, -1.0], [452, 1.2], [456, -0.8], [462, 2.6], [468, 0.4], [474, -0.1], [480, 1.6], [486, 3.9], [492, 0.8], [498, 2.4], [420, 3.8], [430, 4.6], [440, 5.2], [450, 4.8], [460, 5.0], [470, 4.4], [480, 4.7], [490, 4.2], [500, 4.5], [445, 3.8], [465, 3.5], [485, 2.8],
  [506, 0.3], [512, 1.5], [518, 0.6], [524, 3.3], [530, 1.0], [536, 2.2], [542, 0.9], [548, 3.6], [554, 1.6], [560, 2.8], [566, 1.3], [510, 4.3], [520, 4.6], [530, 4.2], [540, 4.5], [550, 4.0], [560, 4.4], [515, 2.7], [545, 2.0],
  [572, 2.0], [578, 3.4], [584, 1.8], [590, 4.0], [596, 2.4], [602, 3.2], [608, 2.2], [614, 4.1], [620, 2.7], [626, 3.5], [632, 2.5], [575, 4.5], [600, 4.3], [625, 4.2],
  [640, 3.6], [648, 4.2], [656, 3.2], [664, 4.6], [672, 3.6], [680, 4.4], [688, 3.9], [696, 5.0],
  [705, 4.3], [712, 5.5], [720, 4.7], [728, 5.8], [736, 5.0], [744, 6.4], [752, 5.6], [760, 6.7], [768, 6.1], [776, 7.1], [784, 6.6], [792, 7.6], [800, 7.3],
  [808, 7.2], [816, 7.9], [824, 7.8], [832, 8.6], [840, 8.7], [848, 9.4], [856, 9.6], [864, 10.4], [872, 10.6], [880, 11.4], [888, 11.7], [896, 12.5], [904, 12.9], [912, 13.5], [920, 13.9], [928, 14.5], [936, 15.1], [944, 15.6], [952, 16.1], [960, 16.6], [968, 17.2], [976, 17.6], [984, 18.2], [992, 18.5], [1000, 19.1], [1010, 19.5], [1020, 20.1], [1030, 20.3], [1040, 20.9], [1050, 21.2], [1060, 21.6], [1070, 21.9], [1080, 22.4], [1090, 22.6], [1100, 23.0], [1112, 23.3], [1124, 23.7], [1136, 23.8], [1148, 24.2], [1160, 24.3], [1172, 24.6], [1184, 24.6], [1196, 24.9], [1208, 24.8], [1220, 25.1], [1232, 25.0], [1244, 25.2], [1256, 25.0], [1268, 25.3], [1280, 25.1], [1292, 25.3], [1304, 25.1], [1316, 25.4], [1328, 25.2], [1340, 25.3], [1352, 25.1], [1364, 25.5], [1376, 25.2], [1388, 25.3], [1400, 25.1], [1412, 25.5], [1424, 25.2], [1436, 25.4], [1448, 25.1], [1460, 25.6], [1472, 25.2], [1484, 25.4], [1496, 25.0], [1500, 25.5]
];
const lgDensitySim = [
  [300, 3.3e-8], [301, 4.2e-8], [302, 2.6e-8], [303, 3.7e-8], [304, 4.5e-8], [305, 3.0e-8], [306, 2.4e-8], [307, 3.9e-8], [308, 3.4e-8], [309, 2.8e-8], [310, 4.1e-8], [311, 3.2e-8], [312, 2.5e-8], [313, 3.6e-8], [314, 2.9e-8], [315, 3.8e-8], [316, 2.7e-8], [317, 3.3e-8], [318, 2.4e-8], [319, 3.5e-8], [320, 3.0e-8], [322, 2.6e-8], [324, 3.3e-8], [326, 2.8e-8], [328, 3.1e-8], [330, 2.5e-8], [332, 2.9e-8], [334, 2.4e-8], [336, 2.7e-8], [338, 2.3e-8], [340, 2.55e-8], [304, 2.2e-8], [310, 2.3e-8], [316, 2.2e-8],
  [345, 2.45e-8], [352, 2.2e-8], [360, 2.25e-8], [367, 2.0e-8], [375, 2.1e-8], [382, 1.85e-8], [390, 1.95e-8], [397, 1.72e-8], [405, 1.82e-8], [412, 1.62e-8], [420, 1.7e-8], [427, 1.5e-8], [435, 1.58e-8], [442, 1.4e-8], [450, 1.5e-8], [457, 1.32e-8], [465, 1.4e-8], [472, 1.25e-8], [480, 1.32e-8], [487, 1.18e-8], [495, 1.25e-8], [502, 1.1e-8], [510, 1.16e-8], [517, 1.02e-8], [525, 1.08e-8], [532, 9.5e-9], [540, 1.0e-8], [547, 8.8e-9], [555, 9.3e-9], [562, 8.1e-9], [570, 8.5e-9], [577, 7.4e-9], [585, 7.8e-9], [592, 6.7e-9], [600, 7.1e-9], [607, 6.1e-9], [615, 6.4e-9], [622, 5.6e-9], [630, 5.9e-9], [637, 5.1e-9], [645, 5.4e-9], [652, 4.6e-9], [660, 4.8e-9], [667, 4.1e-9], [675, 4.3e-9], [682, 3.7e-9], [690, 3.9e-9], [697, 3.3e-9], [705, 3.5e-9], [712, 2.95e-9], [720, 3.1e-9], [727, 2.6e-9], [735, 2.75e-9], [742, 2.3e-9], [750, 2.4e-9], [757, 2.05e-9], [765, 2.15e-9],
  [775, 1.85e-9], [785, 1.7e-9], [795, 1.55e-9], [805, 1.45e-9], [815, 1.35e-9], [825, 1.2e-9], [835, 1.15e-9], [845, 1.05e-9], [855, 9.8e-10], [865, 9e-10], [875, 8.2e-10], [885, 7.6e-10], [895, 7e-10], [905, 6e-10], [915, 5.8e-10], [925, 5.2e-10], [935, 5e-10], [945, 4.5e-10], [955, 4.3e-10], [965, 4e-10], [975, 3.6e-10], [985, 3.7e-10], [995, 3.3e-10], [1005, 3.4e-10], [1015, 3e-10], [1025, 3.1e-10], [1035, 2.8e-10], [1045, 2.9e-10], [1055, 2.6e-10], [1065, 2.7e-10], [1075, 2.4e-10], [1085, 2.5e-10], [1095, 2.25e-10], [1105, 2.35e-10], [1115, 2.1e-10], [1125, 2.2e-10], [1135, 2e-10], [1145, 2.05e-10], [1155, 1.88e-10], [1165, 1.95e-10], [1175, 1.78e-10], [1185, 1.84e-10], [1195, 1.68e-10], [1205, 1.75e-10], [1215, 1.58e-10], [1225, 1.66e-10], [1235, 1.5e-10], [1245, 1.58e-10], [1255, 1.44e-10], [1265, 1.5e-10], [1275, 1.38e-10], [1285, 1.43e-10], [1295, 1.32e-10], [1305, 1.37e-10], [1315, 1.26e-10], [1325, 1.31e-10], [1335, 1.2e-10], [1345, 1.26e-10], [1355, 1.15e-10], [1365, 1.2e-10], [1375, 1.1e-10], [1385, 1.16e-10], [1395, 1.04e-10], [1405, 1.1e-10], [1415, 1e-10], [1425, 1.05e-10], [1435, 9.5e-11], [1445, 1e-10], [1455, 9e-11], [1465, 9.6e-11], [1475, 8.5e-11], [1485, 9e-11], [1495, 7.8e-11], [1500, 8.5e-11],
  [840, 1.25e-9], [900, 7.5e-10], [960, 4.6e-10], [1020, 3.4e-10], [1100, 2.6e-10], [1200, 1.9e-10], [1300, 1.45e-10], [1400, 1.18e-10], [1480, 1e-10], [1470, 7.5e-11], [1390, 9.5e-11]
];
const lgTemperatureSim = [
  [300, 3300], [301, 3100], [302, 3500], [303, 2900], [304, 3250], [305, 3450], [306, 2800], [307, 3150], [308, 3350], [309, 2950], [310, 3200], [311, 2700], [312, 3050], [313, 3300], [314, 2850], [316, 3100], [318, 2750], [320, 2950], [322, 2650], [324, 2850], [326, 2600], [328, 2750], [330, 2500],
  [312, 2300], [315, 1800], [318, 2100], [321, 1500], [324, 2200], [327, 1700], [330, 1950], [333, 1350], [336, 2050], [339, 1600], [342, 1850], [345, 1250], [348, 1950], [351, 1450], [354, 1700], [357, 1150], [360, 1850], [363, 1350], [366, 1600], [369, 1050], [372, 1750], [375, 1300], [378, 1500], [381, 950], [384, 1650], [387, 1200], [390, 1400], [393, 1000], [396, 1550], [399, 1150], [402, 1350], [405, 900], [408, 1500], [411, 1100], [414, 1300], [417, 850], [420, 1450], [423, 1050], [426, 1250], [429, 800], [432, 1400], [435, 1000], [438, 1200], [441, 780], [444, 1350], [447, 980], [450, 1150], [453, 1550], [456, 1300], [459, 950], [462, 1100], [465, 1500], [468, 1250], [471, 900], [474, 1050], [477, 1450], [480, 1200], [483, 870], [486, 1000], [489, 1400], [492, 1150], [495, 840], [498, 980], [501, 1350], [505, 1100], [509, 800], [513, 1300], [517, 950], [521, 1050], [525, 1250], [529, 760], [533, 1000], [537, 1200], [541, 900], [545, 1100], [549, 730], [553, 950], [557, 1150], [561, 860], [565, 1050], [569, 700], [573, 920], [577, 1100], [581, 820], [585, 1000], [589, 680], [593, 880], [597, 1050], [601, 780], [605, 950], [609, 650], [613, 850], [617, 1000], [621, 740], [625, 900], [629, 620], [633, 820], [637, 950], [641, 700], [645, 850],
  [314, 2000], [320, 1700], [326, 1400], [332, 1600], [338, 1300], [344, 1700], [350, 1150], [356, 1350], [362, 1550], [368, 1250], [374, 1050], [380, 1350], [386, 1100], [392, 1250], [398, 950], [404, 1200], [410, 1000], [416, 1150], [422, 950], [428, 1300], [434, 1100], [440, 900], [446, 1200], [452, 1000], [458, 1250], [464, 850], [470, 1100], [476, 950], [482, 1300], [488, 1050], [494, 900], [500, 1200], [506, 1000], [512, 870], [518, 1150], [524, 980], [530, 1100], [536, 850], [542, 1000], [548, 1180], [554, 900], [560, 1000], [566, 820], [572, 1000], [578, 900], [584, 780], [590, 950], [596, 870], [602, 1000], [608, 760], [614, 900], [620, 820], [626, 950], [632, 720], [638, 880], [644, 780],
  [317, 1900], [323, 1600], [329, 1800], [335, 1450], [341, 1550], [347, 1400], [353, 1600], [359, 1250], [365, 1450], [371, 1200], [377, 1400], [383, 1150], [389, 1300], [395, 1050], [401, 1250], [407, 1050], [413, 1200], [419, 1000], [425, 1150], [431, 950], [437, 1100], [443, 1000], [449, 1300], [455, 900], [461, 1200], [467, 1000], [473, 1350], [479, 1100], [485, 950], [491, 1250], [497, 1050], [503, 900], [511, 1150], [519, 1050], [527, 900], [535, 1150], [543, 950], [551, 1050], [559, 900], [567, 1100], [575, 850], [583, 950], [591, 800], [599, 1000], [607, 850], [615, 950], [623, 800], [631, 900], [639, 760], [647, 820], [655, 700], [661, 780], [667, 650], [673, 730],
  [365, 3050], [395, 2700], [430, 2900], [455, 2500], [480, 2650], [520, 2300], [345, 900], [360, 650], [380, 560], [400, 420], [420, 600], [500, 620], [470, 700], [330, 1100], [340, 800],
  [650, 760], [656, 640], [662, 720], [668, 600], [674, 690], [680, 560], [686, 650], [692, 530], [698, 610], [704, 500], [710, 580], [716, 470], [722, 550], [728, 440], [734, 520], [740, 420], [746, 490], [752, 400], [758, 460], [764, 380], [770, 440], [700, 420], [720, 680], [750, 350], [680, 470],
  [776, 400], [782, 330], [788, 430], [794, 300], [800, 380], [808, 280], [816, 350], [824, 400], [832, 260], [840, 330], [848, 370], [856, 250], [864, 310], [872, 350], [880, 235], [888, 290], [896, 330], [904, 225], [912, 280], [920, 310], [928, 215], [936, 265], [944, 300], [952, 205], [960, 250], [968, 290], [976, 200], [984, 240], [992, 280], [1000, 195], [1010, 230], [1020, 265], [1030, 180], [1040, 220], [1050, 250], [1060, 170], [1070, 210], [1080, 240], [1090, 165], [1100, 200], [1112, 230], [1124, 155], [1136, 190], [1148, 220], [1160, 150], [1172, 180], [1184, 210], [1196, 145], [1208, 172], [1220, 200], [1232, 140], [1244, 165], [1256, 190], [1268, 130], [1280, 158], [1292, 180], [1304, 125], [1316, 150], [1328, 170], [1340, 118], [1352, 142], [1364, 160], [1376, 110], [1388, 135], [1400, 152], [1412, 104], [1424, 128], [1436, 145], [1448, 98], [1460, 120], [1472, 138], [1484, 92], [1494, 115], [1500, 138], [1498, 88],
  [890, 420], [1010, 330], [1150, 260], [1320, 210], [1450, 180], [960, 170], [1200, 120], [1400, 95],
  [780, 350], [798, 410], [812, 320], [830, 290], [852, 280], [868, 270], [884, 320], [900, 260], [916, 250], [932, 290], [948, 230], [964, 270], [980, 220], [996, 250], [1015, 210], [1035, 240], [1055, 200], [1075, 185], [1095, 225], [1118, 180], [1142, 200], [1166, 170], [1190, 160], [1214, 185], [1238, 155], [1262, 175], [1286, 145], [1310, 165], [1334, 135], [1358, 150], [1382, 125], [1406, 140], [1430, 115], [1454, 132], [1478, 108], [1490, 125]
];

const PANELS = [
  { velocity: cvVelocity, sound: cvSound, density: cvDensity, temperature: cvTemperature, velocitySim: cvVelocitySim, densitySim: cvDensitySim, temperatureSim: cvTemperatureSim },
  { velocity: rsVelocity, sound: rsSound, density: rsDensity, temperature: rsTemperature, velocitySim: rsVelocitySim, densitySim: rsDensitySim, temperatureSim: rsTemperatureSim },
  { velocity: blVelocity, sound: blSound, density: blDensity, temperature: blTemperature, velocitySim: blVelocitySim, densitySim: blDensitySim, temperatureSim: blTemperatureSim },
  { velocity: lgVelocity, sound: lgSound, density: lgDensity, temperature: lgTemperature, velocitySim: lgVelocitySim, densitySim: lgDensitySim, temperatureSim: lgTemperatureSim },
];

// ---------- layout & style ----------
const FONT = "'Liberation Serif', 'DejaVu Serif', serif";
const INK = "#000000";
const SURFACE_GREY = "#808080";
const COL_X = [112.5, 549];
const COL_W = [323, 324];
const ROW_Y = [45, 798];
const SUB_H = 209;
const TICK_FONT = 20.5;
const LABEL_FONT = 22;
const LEGEND_FONT = 22.5;
const TITLE_FONT = 25;

const tickLine = { color: INK, width: 1.2 };
const labelStyle = { fontFamily: FONT, fontSize: TICK_FONT, color: INK };
const nameRich = {
  i: { fontFamily: FONT, fontSize: LABEL_FONT, fontStyle: "italic", color: INK },
  n: { fontFamily: FONT, fontSize: LABEL_FONT, color: INK },
  s: { fontFamily: FONT, fontSize: 13, color: INK, padding: [10, 0, 0, 0] },
};
const powRich = {
  b: { fontFamily: FONT, fontSize: TICK_FONT, color: INK },
  s: { fontFamily: FONT, fontSize: 14, color: INK, padding: [0, 0, 12, 0] },
};

function powerOfTen(value: number): string {
  const e = Math.round(Math.log10(value));
  const txt = e < 0 ? "\u2212" + String(-e) : String(e);
  return `{b|10}{s|${txt}}`;
}

function plainNumber(value: number): string {
  return String(value);
}

function buildOption() {
  const grid: any[] = [];
  const xAxis: any[] = [];
  const topAxes: any[] = [];
  const yAxis: any[] = [];
  const minorAxes: any[] = [];
  const series: any[] = [];
  const graphic: any[] = [];

  PANELS.forEach((panel, p) => {
    const col = p % 2;
    const row = Math.floor(p / 2);
    const left = COL_X[col];
    const width = COL_W[col];
    const color = PANEL_COLORS[p];

    for (let s = 0; s < 3; s++) {
      const g = p * 3 + s;
      const top = ROW_Y[row] + s * SUB_H;
      grid.push({
        left, top, width, height: SUB_H,
        show: true, borderColor: INK, borderWidth: 1.3, backgroundColor: "transparent",
        containLabel: false, outerBoundsMode: "none",
      });
      const isBottom = s === 2;
      xAxis.push({
        type: "value", gridIndex: g, min: R_MIN, max: R_MAX, position: "bottom",
        axisLine: { show: false, onZero: false },
        splitLine: { show: false },
        axisTick: { show: true, customValues: R_TICKS, length: 5, lineStyle: tickLine },
        axisLabel: { show: isBottom, customValues: R_TICKS, margin: 9, formatter: plainNumber, ...labelStyle },
        name: isBottom ? "{i|r} {n|(R}{s|\u2299}{n|)}" : "",
        nameLocation: "middle", nameGap: 31,
        nameTextStyle: { fontFamily: FONT, fontSize: LABEL_FONT, color: INK, rich: nameRich },
      });
      if (s === 0) {
        topAxes.push({
          type: "value", gridIndex: g, min: R_MIN, max: R_MAX, position: "top",
          axisLine: { show: false, onZero: false }, splitLine: { show: false },
          axisTick: { show: true, inside: true, customValues: R_TICKS, length: 6, lineStyle: tickLine },
          axisLabel: { show: false },
        });
        yAxis.push({
          type: "value", gridIndex: g, min: V_MIN, max: V_MAX, position: "left",
          axisLine: { show: false, onZero: false }, splitLine: { show: false },
          axisTick: { show: true, customValues: V_TICKS, length: 5, lineStyle: tickLine },
          axisLabel: { customValues: V_TICKS, margin: 10, formatter: plainNumber, ...labelStyle },
          name: "{i|v} (km/s)", nameLocation: "middle", nameGap: 57, nameRotate: 90,
          nameTextStyle: { fontFamily: FONT, fontSize: LABEL_FONT, color: INK, rich: nameRich },
        });
      } else {
        const isRho = s === 1;
        const min = isRho ? RHO_MIN : T_MIN;
        const max = isRho ? RHO_MAX : T_MAX;
        yAxis.push({
          type: "log", logBase: 10, gridIndex: g, min, max, position: "left",
          axisLine: { show: false, onZero: false }, splitLine: { show: false },
          axisTick: { show: true, customValues: isRho ? RHO_TICKS : T_TICKS, length: 5, lineStyle: tickLine },
          axisLabel: { customValues: isRho ? RHO_TICKS : T_TICKS, margin: 9, formatter: powerOfTen, rich: powRich, ...labelStyle },
          name: isRho ? "{i|\u03C1} (g/m\u00B3)" : "{i|T} (k)",
          nameLocation: "middle", nameGap: isRho ? 60 : 57, nameRotate: 90,
          nameTextStyle: { fontFamily: FONT, fontSize: LABEL_FONT, color: INK, rich: nameRich },
        });
        minorAxes.push({
          type: "log", logBase: 10, gridIndex: g, min, max, position: "left",
          axisLine: { show: false, onZero: false }, splitLine: { show: false },
          axisTick: { show: true, customValues: isRho ? RHO_MINOR : T_MINOR, length: 2.8, lineStyle: { color: INK, width: 0.9 } },
          axisLabel: { show: false },
        });
      }

      const surface = {
        silent: true, symbol: ["none", "none"], label: { show: false },
        lineStyle: { color: SURFACE_GREY, type: [3, 4.6], width: 2.6 },
        data: [{ xAxis: R_SURFACE }], z: 6,
      };
      const simData = s === 0 ? panel.velocitySim : s === 1 ? panel.densitySim : panel.temperatureSim;
      const curve = s === 0 ? panel.velocity : s === 1 ? panel.density : panel.temperature;
      series.push({
        type: "scatter", name: "simulation", xAxisIndex: g, yAxisIndex: g, data: simData,
        symbol: "circle", symbolSize: s === 0 ? 6.5 : 3.6, itemStyle: { color, opacity: 1 }, silent: true, z: 2,
      });
      if (s === 0) {
        series.push({
          type: "line", name: "sound speed", xAxisIndex: g, yAxisIndex: g, data: panel.sound,
          symbol: "none", showSymbol: false, smooth: 0.25,
          lineStyle: { color: INK, width: 3, type: [3, 5] }, silent: true, z: 3,
        });
      }
      series.push({
        type: "line", name: "analytical", xAxisIndex: g, yAxisIndex: g, data: curve,
        symbol: "none", showSymbol: false, smooth: 0.25,
        lineStyle: { color: INK, width: 3.2 }, silent: true, z: 4, markLine: surface,
      });
    }

    // panel title
    graphic.push({
      type: "text", x: left + width / 2, y: ROW_Y[row] - 21,
      style: { text: PANEL_TITLES[p], fontFamily: FONT, fontSize: TITLE_FONT, fill: INK, align: "center", verticalAlign: "middle", textAlign: "center", textVerticalAlign: "middle" },
    });

    // legend in the density subplot
    const rhoTop = ROW_Y[row] + SUB_H;
    const lx = left + 145.5;
    const tx = left + 205.5;
    const rowsY = [rhoTop + 28, rhoTop + 59, rhoTop + 89];
    graphic.push({ type: "line", shape: { x1: lx, y1: rowsY[0], x2: lx + 45, y2: rowsY[0] }, style: { stroke: INK, lineWidth: 3 } });
    graphic.push({ type: "line", shape: { x1: lx, y1: rowsY[1], x2: lx + 45, y2: rowsY[1] }, style: { stroke: INK, lineWidth: 3, lineDash: [3, 5] } });
    graphic.push({ type: "circle", shape: { cx: lx + 22.5, cy: rowsY[2], r: 2.8 }, style: { fill: color } });
    LEGEND_LABELS.forEach((label, i) => {
      graphic.push({
        type: "text", x: tx, y: rowsY[i],
        style: { text: label, fontFamily: FONT, fontSize: LEGEND_FONT, fill: INK, align: "left", verticalAlign: "middle", textAlign: "left", textVerticalAlign: "middle" },
      });
    });

    // stellar surface annotation
    const surfaceX = left + ((R_SURFACE - R_MIN) / (R_MAX - R_MIN)) * width;
    graphic.push({
      type: "text", x: surfaceX - 12, y: rhoTop + 96, rotation: Math.PI / 2,
      style: { text: "stellar surface", fontFamily: FONT, fontSize: 21.5, fill: INK, align: "center", verticalAlign: "middle", textAlign: "center", textVerticalAlign: "middle" },
    });
  });

  return {
    animation: false,
    backgroundColor: "#ffffff",
    grid,
    xAxis: [...xAxis, ...topAxes],
    yAxis: [...yAxis, ...minorAxes],
    series,
    graphic: { elements: graphic },
  };
}

export default function App() {
  const ref = useRef<HTMLDivElement>(null);
  useEffect(() => {
    if (!ref.current) return;
    const chart = echarts.init(ref.current, null, { renderer: "svg" });
    chart.setOption(buildOption());
    return () => chart.dispose();
  }, []);
  return <div ref={ref} style={{ position: "absolute", left: 0, top: 0, width: 900, height: 1500, background: "#fff" }} />;
}
